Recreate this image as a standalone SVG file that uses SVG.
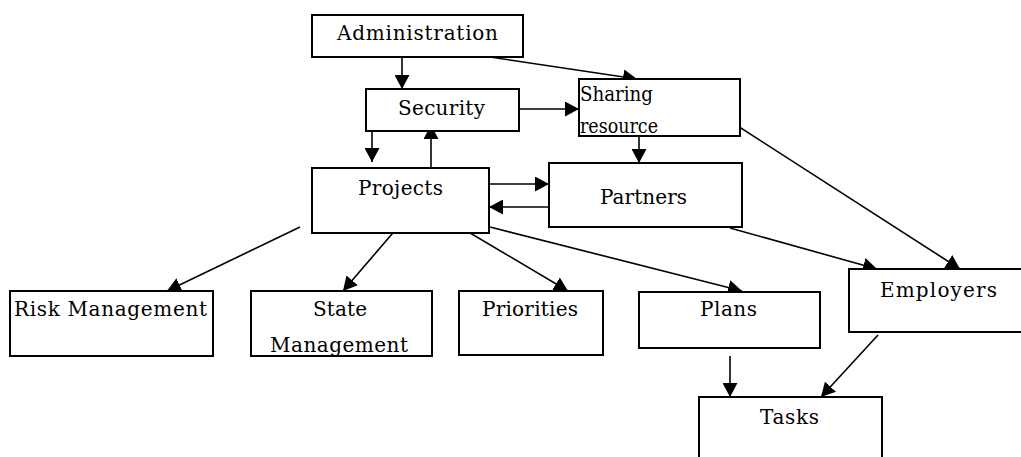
<svg xmlns="http://www.w3.org/2000/svg" width="1021" height="457" viewBox="0 0 1021 457">
  <style>
    .box { fill: #ffffff; stroke: #000000; stroke-width: 2; }
    .lbl { font-family: "DejaVu Serif", "Liberation Serif", serif; font-size: 20px; fill: #000000; }
    .edge { fill: none; stroke: #000000; stroke-width: 1.6; marker-end: url(#arrow); }
  </style>
  <defs>
    <marker id="arrow" markerUnits="userSpaceOnUse" markerWidth="14" markerHeight="15" refX="14" refY="7.5" orient="auto">
      <path d="M0,0 L14,7.5 L0,15 Z" fill="#000000"/>
    </marker>
  </defs>
  <rect width="1021" height="457" fill="#ffffff"/>

  <!-- connectors (drawn first so boxes sit on top) -->
  <g id="connectors">
    <line class="edge" x1="402" y1="57" x2="402" y2="89"/>
    <line class="edge" x1="490" y1="57" x2="637" y2="79"/>
    <line class="edge" x1="519" y1="109" x2="579" y2="109"/>
    <line class="edge" x1="372" y1="131" x2="372" y2="162"/>
    <line class="edge" x1="431" y1="168" x2="431" y2="125"/>
    <line class="edge" x1="639" y1="136" x2="639" y2="163"/>
    <line class="edge" x1="489" y1="184" x2="549" y2="184"/>
    <line class="edge" x1="549" y1="207" x2="489" y2="207"/>
    <line class="edge" x1="300" y1="227" x2="167" y2="291"/>
    <line class="edge" x1="398" y1="227" x2="343" y2="291"/>
    <line class="edge" x1="460" y1="227" x2="568" y2="291"/>
    <line class="edge" x1="490" y1="227" x2="742" y2="291"/>
    <line class="edge" x1="730" y1="228" x2="877" y2="269"/>
    <line class="edge" x1="730" y1="121" x2="960" y2="269"/>
    <line class="edge" x1="730" y1="356" x2="730" y2="397"/>
    <line class="edge" x1="878" y1="335" x2="821" y2="397"/>
  </g>

  <g id="administration">
    <rect class="box" x="312" y="15" width="211" height="42"/>
    <text class="lbl" x="337" y="40" textLength="161" lengthAdjust="spacing">Administration</text>
  </g>
  <g id="security">
    <rect class="box" x="366" y="89" width="153" height="42"/>
    <text class="lbl" x="398" y="115" textLength="87" lengthAdjust="spacing">Security</text>
  </g>
  <g id="sharing-resource">
    <rect class="box" x="579" y="79" width="161" height="57"/>
    <text class="lbl" x="580" y="101" textLength="73" lengthAdjust="spacingAndGlyphs">Sharing</text>
    <text class="lbl" x="580" y="133" textLength="78" lengthAdjust="spacingAndGlyphs">resource</text>
  </g>
  <g id="projects">
    <rect class="box" x="312" y="168" width="177" height="65"/>
    <text class="lbl" x="358" y="195" textLength="85" lengthAdjust="spacing">Projects</text>
  </g>
  <g id="partners">
    <rect class="box" x="549" y="163" width="193" height="64"/>
    <text class="lbl" x="600" y="204" textLength="87" lengthAdjust="spacing">Partners</text>
  </g>
  <g id="risk-management">
    <rect class="box" x="10" y="291" width="203" height="65"/>
    <text class="lbl" x="14" y="316" textLength="193" lengthAdjust="spacing">Risk Management</text>
  </g>
  <g id="state-management">
    <rect class="box" x="251" y="291" width="181" height="65"/>
    <text class="lbl" x="313" y="316" textLength="54" lengthAdjust="spacing">State</text>
    <text class="lbl" x="270" y="352" textLength="138" lengthAdjust="spacing">Management</text>
  </g>
  <g id="priorities">
    <rect class="box" x="459" y="291" width="144" height="64"/>
    <text class="lbl" x="482" y="316" textLength="96" lengthAdjust="spacing">Priorities</text>
  </g>
  <g id="plans">
    <rect class="box" x="639" y="292" width="181" height="56"/>
    <text class="lbl" x="700" y="316" textLength="57" lengthAdjust="spacing">Plans</text>
  </g>
  <g id="employers">
    <rect class="box" x="849" y="269" width="190" height="63"/>
    <text class="lbl" x="880" y="297" textLength="117" lengthAdjust="spacing">Employers</text>
  </g>
  <g id="tasks">
    <rect class="box" x="699" y="397" width="183" height="80"/>
    <text class="lbl" x="760" y="424" textLength="59" lengthAdjust="spacing">Tasks</text>
  </g>
</svg>
